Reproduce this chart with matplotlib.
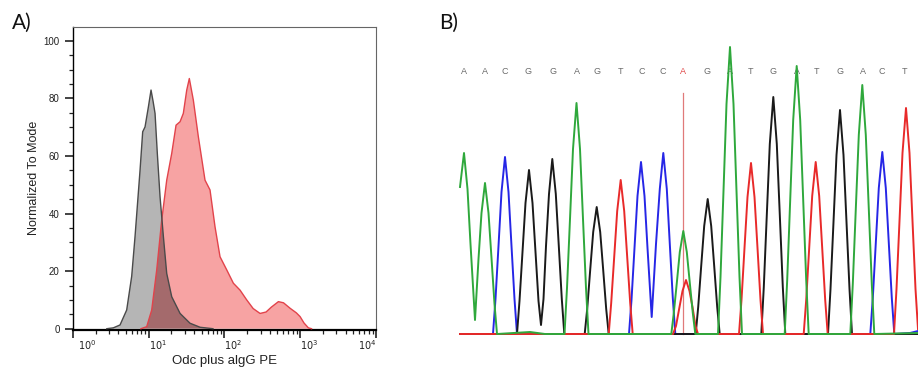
import numpy as np
import matplotlib
matplotlib.use("Agg")
import matplotlib.pyplot as plt
from matplotlib.ticker import FixedLocator, MultipleLocator, LogLocator, NullFormatter
from matplotlib.transforms import ScaledTranslation

plt.rcParams["font.family"] = ["Liberation Sans", "DejaVu Sans"]

# ---- panel A: flow cytometry histograms (log10 intensity, % of mode) ----
gray_log = [0.45, 0.536, 0.624, 0.712, 0.778, 0.822, 0.888, 0.923, 0.954, 0.998,
            1.033, 1.06, 1.086, 1.116, 1.152, 1.196, 1.24, 1.306, 1.416, 1.547,
            1.68, 1.85]
gray_y = [0, 0.3, 1.3, 6.5, 18.2, 32, 55, 68.4, 70.1, 77,
          82.9, 79, 74.8, 60.9, 45.8, 32, 19.2, 11.1, 5.3, 1.9,
          0.5, 0]

red_log = [0.90, 0.976, 1.042, 1.108, 1.174, 1.24, 1.306, 1.363, 1.416, 1.459,
           1.504, 1.538, 1.591, 1.657, 1.745, 1.811, 1.877, 1.943, 2.032, 2.119,
           2.207, 2.295, 2.38, 2.471, 2.55, 2.62, 2.713, 2.78, 2.867, 2.95,
           2.999, 3.05, 3.108, 3.15]
red_y = [0, 0.7, 6.5, 20.4, 37.7, 51.6, 60.9, 70.7, 71.9, 74.8,
         82.9, 86.9, 79.4, 66.7, 51.6, 48.2, 35.4, 25, 20.4, 15.8,
         13.4, 10, 7, 5.3, 5.8, 7.5, 9.4, 9.0, 7.1, 5.5,
         4.2, 2, 0.3, 0]

y_ticks = [0, 20, 40, 60, 80, 100]
x_ticks = [1, 10, 100, 1000, 10000]

# ---- panel B: sequencing chromatogram (scan position, signal) ----
bases = list("AACGGAGTCCAGATGATGACT")
base_pos = [464, 485, 505, 528, 553, 577, 597, 620, 642, 663, 683,
            707, 730, 750, 773, 797, 816, 840, 863, 882, 905]
mixed_base = 10   # index of the heterozygous call
cursor_pos = 683.3

trace_A = [(460, 147), (464, 181), (467.5, 145), (470.5, 90), (475, 14),
           (478.5, 75), (481.5, 121), (485, 151), (488.5, 121), (491.5, 76),
           (494.5, 30), (497, 0), (530, 2), (545, 0),
           (564.5, 0), (567, 46), (570, 115), (573, 185), (576.5, 231),
           (580, 185), (583, 115), (586, 46), (588.5, 0),
           (671.3, 0), (673.8, 21), (676.8, 51), (679.8, 82), (683.3, 103),
           (686.8, 82), (689.8, 51), (692.8, 21), (695.3, 0),
           (718, 0), (720.5, 57), (723.5, 143), (726.5, 230), (730, 287),
           (733.5, 230), (736.5, 143), (739.5, 57), (742, 0),
           (784.7, 0), (787.2, 54), (790.2, 134), (793.2, 214), (796.7, 268),
           (800.2, 214), (803.2, 134), (806.2, 54), (808.7, 0),
           (850.3, 0), (852.8, 50), (855.8, 125), (858.8, 199), (862.3, 249),
           (865.8, 199), (868.8, 125), (871.8, 50), (874.3, 0), (918, 1)]

trace_C = [(460, 0), (493, 0), (495.5, 35), (498.5, 88), (501.5, 142), (505, 177),
           (508.5, 142), (511.5, 88), (514.5, 35), (517, 0),
           (629, 0), (631.5, 34), (634.5, 86), (637.5, 138), (641, 172),
           (644.5, 138), (647.5, 86), (651.7, 17), (656, 90), (659.8, 145),
           (663.3, 181), (666.8, 145), (669.8, 90), (672.8, 36), (675.3, 0),
           (870.3, 0), (872.8, 36), (875.8, 91), (878.8, 146), (882.3, 182),
           (885.8, 146), (888.8, 91), (891.8, 36), (894.3, 0), (910, 1), (918, 3)]

trace_G = [(460, 0), (517, 0), (519.5, 33), (522.5, 82), (525.5, 131), (529, 164),
           (532.5, 131), (535.5, 82), (538.5, 33), (541, 9), (543.5, 35),
           (546, 88), (549, 140), (552.3, 175), (555.8, 140), (558.8, 88),
           (561.8, 35), (564.3, 0),
           (584.7, 0), (587.2, 25), (590.2, 64), (593.2, 102), (596.7, 127),
           (600.2, 102), (603.2, 64), (606.2, 25), (608.7, 0),
           (695.7, 0), (698.2, 27), (701.2, 68), (704.2, 108), (707.7, 135),
           (711.2, 108), (714.2, 68), (717.2, 27), (719.7, 0),
           (761.3, 0), (763.8, 47), (766.8, 119), (769.8, 190), (773.3, 237),
           (776.8, 190), (779.8, 119), (782.8, 47), (785.3, 0),
           (828, 0), (830.5, 45), (833.5, 112), (836.5, 179), (840, 224),
           (843.5, 179), (846.5, 112), (849.5, 45), (852, 0), (918, 0)]

trace_T = [(460, 0), (608.7, 0), (611.2, 31), (614.2, 77), (617.2, 123), (620.7, 154),
           (624.2, 123), (627.2, 77), (630.2, 31), (632.7, 0),
           (673, 0), (676, 8), (679.5, 27), (682.5, 43), (686, 54),
           (689.5, 43), (692.5, 27), (695.5, 8), (698, 0),
           (739, 0), (741.5, 34), (744.5, 86), (747.5, 137), (751, 171),
           (754.5, 137), (757.5, 86), (760.5, 34), (763, 0),
           (803.7, 0), (806.2, 34), (809.2, 86), (812.2, 138), (815.7, 172),
           (819.2, 138), (822.2, 86), (825.2, 34), (827.7, 0),
           (894, 0), (896.5, 45), (899.5, 113), (902.5, 181), (906, 226),
           (909.5, 181), (912.5, 113), (915.5, 45), (918, 5)]

W, H = 918, 377
fig = plt.figure(figsize=(W / 100, H / 100), dpi=100)

# ================= panel A =================
ax = fig.add_axes([72.7 / W, (H - 330) / H, (376 - 72.7) / W, (330 - 26.7) / H])

gx = 10 ** np.array(gray_log)
rx = 10 ** np.array(red_log)

red_patch = ax.fill(rx, red_y, color="#f7a3a3", lw=0, zorder=1)[0]
ax.fill(gx, gray_y, color="#b5b5b5", lw=0, zorder=2)
overlap = ax.fill(gx, gray_y, color="#a46a6c", lw=0, zorder=3)[0]
overlap.set_clip_path(red_patch)
ax.plot(rx, red_y, color="#e2434b", lw=1.0, zorder=4)
ax.plot(gx, gray_y, color="#4a4a4a", lw=1.0, zorder=5)

ax.set_xscale("log")
ax.set_xlim(1, 10000)
ax.set_ylim(-0.45, 104.9)
ax.yaxis.set_major_locator(FixedLocator(y_ticks))
ax.yaxis.set_minor_locator(MultipleLocator(5))
ax.xaxis.set_major_locator(FixedLocator(x_ticks))
ax.xaxis.set_minor_locator(LogLocator(base=10, subs=np.arange(2, 10)))
ax.xaxis.set_minor_formatter(NullFormatter())
ax.set_xticklabels([r"$10^{%d}$" % k for k in range(5)])

ax.tick_params(axis="both", which="major", direction="out", length=5.5,
               width=1.2, labelsize=7, colors="#222222")
ax.tick_params(axis="both", which="minor", direction="out", length=3,
               width=0.9, colors="#222222")
ax.tick_params(axis="y", pad=4)
ax.tick_params(axis="x", pad=0.5)

labels = ax.get_xticklabels()
for i, lab in enumerate(labels):
    lab.set_ha("left")
    if i == 0:
        lab.set_transform(lab.get_transform() + ScaledTranslation(5 / 100, 0, fig.dpi_scale_trans))
    if i == len(labels) - 1:
        lab.set_ha("right")

ax.spines["left"].set_linewidth(1.0)
ax.spines["bottom"].set_linewidth(1.6)
for s in ("top", "right"):
    ax.spines[s].set_linewidth(0.8)
    ax.spines[s].set_color("#666666")

ax.set_ylabel("Normalized To Mode", fontsize=9, color="#222222", labelpad=2.5)
ax.set_xlabel("Odc plus algG PE", fontsize=9.5, color="#222222", labelpad=2)

fig.text(12 / W, 1 - 23 / H, "A)", fontsize=15, family=["Lato", "DejaVu Sans"],
         va="center", ha="left", color="#111111")
fig.text(439 / W, 1 - 23 / H, "B)", fontsize=15, family=["Lato", "DejaVu Sans"],
         va="center", ha="left", color="#111111")

# ================= panel B =================
bx = fig.add_axes([455 / W, 37 / H, 463 / W, 300 / H])
bx.set_xlim(455, 918)
bx.set_ylim(-6, 294)
bx.axis("off")

for tr, col in ((trace_C, "#2626e6"), (trace_G, "#1a1a1a"),
                (trace_T, "#e82a2a"), (trace_A, "#2fa83c")):
    xs, ys = zip(*tr)
    bx.plot(xs, ys, color=col, lw=1.4, solid_joinstyle="round", zorder=3)

bx.plot([cursor_pos, cursor_pos], [0, 241], color="#e07a7a", lw=0.9, zorder=2)

for i, (b, p) in enumerate(zip(bases, base_pos)):
    bx.text(p, 262.3, b, fontsize=6.5, ha="center", va="center",
            color="#e04848" if i == mixed_base else "#6a6a6a", zorder=1)

fig.savefig("out.png", dpi=100)
